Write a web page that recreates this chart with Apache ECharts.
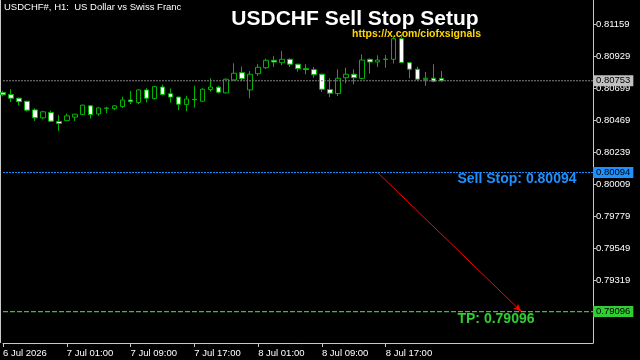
<!DOCTYPE html>
<html>
<head>
<meta charset="utf-8">
<script src="https://cdn.jsdelivr.net/npm/echarts@6/dist/echarts.min.js"></script>
<style>
html,body{margin:0;padding:0;background:#000;}
#chart{width:640px;height:360px;}
</style>
</head>
<body>
<div id="chart"></div>
<script>
// ---- data ----
var timeLabels = ['6 Jul 2026','7 Jul 01:00','7 Jul 09:00','7 Jul 17:00','8 Jul 01:00','8 Jul 09:00','8 Jul 17:00'];
var yTicks = [0.81159,0.80929,0.80699,0.80469,0.80239,0.80009,0.79779,0.79549,0.79319];
var opens  = [0.80668,0.80654,0.80628,0.80606,0.80544,0.80487,0.80525,0.80460,0.80467,0.80492,0.80510,0.80573,0.80515,0.80555,0.80553,0.80568,0.80615,0.80597,0.80687,0.80625,0.80708,0.80660,0.80636,0.80582,0.80620,0.80606,0.80690,0.80707,0.80666,0.80759,0.80811,0.80687,0.80804,0.80847,0.80900,0.80883,0.80907,0.80872,0.80840,0.80833,0.80800,0.80690,0.80661,0.80775,0.80800,0.80770,0.80907,0.80888,0.80906,0.80907,0.81055,0.80883,0.80836,0.80763,0.80771,0.80770];
var closes = [0.80652,0.80628,0.80603,0.80542,0.80487,0.80530,0.80463,0.80446,0.80501,0.80513,0.80578,0.80510,0.80558,0.80557,0.80573,0.80615,0.80603,0.80687,0.80628,0.80711,0.80654,0.80636,0.80585,0.80622,0.80617,0.80692,0.80708,0.80671,0.80764,0.80807,0.80768,0.80800,0.80850,0.80900,0.80888,0.80907,0.80872,0.80840,0.80833,0.80797,0.80692,0.80664,0.80771,0.80800,0.80775,0.80902,0.80888,0.80902,0.80908,0.81055,0.80884,0.80836,0.80764,0.80771,0.80750,0.80753];
var lows   = [0.80641,0.80601,0.80578,0.80532,0.80465,0.80477,0.80458,0.80393,0.80464,0.80465,0.80508,0.80482,0.80501,0.80520,0.80542,0.80558,0.80585,0.80585,0.80597,0.80618,0.80649,0.80597,0.80542,0.80534,0.80561,0.80605,0.80675,0.80661,0.80662,0.80755,0.80752,0.80628,0.80788,0.80836,0.80852,0.80866,0.80852,0.80819,0.80800,0.80775,0.80673,0.80636,0.80644,0.80735,0.80728,0.80764,0.80804,0.80852,0.80847,0.80876,0.80881,0.80771,0.80752,0.80716,0.80742,0.80748];
var highs  = [0.80680,0.80692,0.80630,0.80608,0.80556,0.80537,0.80539,0.80506,0.80517,0.80515,0.80580,0.80578,0.80562,0.80566,0.80576,0.80639,0.80680,0.80692,0.80700,0.80716,0.80725,0.80697,0.80639,0.80645,0.80716,0.80700,0.80771,0.80716,0.80770,0.80879,0.80854,0.80823,0.80872,0.80912,0.80931,0.80967,0.80914,0.80874,0.80872,0.80852,0.80804,0.80771,0.80836,0.80847,0.80836,0.80943,0.80913,0.80936,0.80938,0.81074,0.81089,0.80888,0.80854,0.80816,0.80872,0.80823];
var lastPrice = 0.80753;
var sellStop = 0.80094;
var takeProfit = 0.79096;
var arrowFrom = 47, arrowTo = 65;   // bar slots of the projection arrow
var labelSlot = 57;                 // bar slot where level texts start
var totalSlots = 75;

// ---- build ----
var categories = [];
for (var i = 0; i < totalSlots; i++) categories.push(String(i));
var candles = opens.map(function (o, i) { return [o, closes[i], lows[i], highs[i]]; });

var FONT = 'Liberation Sans, Arial, sans-serif';
var GREEN = '#00b400';
var TPGREEN = '#32cd32';
var BLUE = '#1e90ff';

// a horizontal price level across the whole chart, with its price box on the axis
function levelSeries(value, color, dash, boxColor, width) {
  return {
    type: 'line', silent: true, z: 8, symbol: 'none', animation: false,
    data: [[0, value], [totalSlots - 1, value]],
    color: color,
    lineStyle: {color: color, type: dash, width: width || 1, opacity: 1},
    itemStyle: {color: color},
    endLabel: {show: true, distance: 0,
      formatter: function (p) { return Number(p.value[1]).toFixed(5); },
      color: '#000', backgroundColor: boxColor, padding: [1, 3, 0, 3], fontFamily: FONT, fontSize: 9.5},
    emphasis: {disabled: true}
  };
}

var chart = echarts.init(document.getElementById('chart'), null, {renderer: 'canvas'});
chart.setOption({
  backgroundColor: '#000',
  animation: false,
  grid: {left: 1, right: 47, top: 0, bottom: 17, containLabel: false},
  xAxis: {
    type: 'category', data: categories, boundaryGap: false,
    axisLine: {show: true, lineStyle: {color: '#c8c8c8', width: 1}},
    axisTick: {show: true, length: 4, lineStyle: {color: '#c8c8c8'},
      interval: function (idx) { return idx % 8 === 0 && idx / 8 < timeLabels.length; }},
    axisLabel: {show: true, color: '#ffffff', fontFamily: FONT, fontSize: 9.5, align: 'left', margin: 5,
      interval: function (idx) { return idx % 8 === 0 && idx / 8 < timeLabels.length; },
      formatter: function (v, idx) { return timeLabels[idx / 8] || ''; }},
    splitLine: {show: false}
  },
  yAxis: {
    type: 'value', position: 'right', min: 0.78870, max: 0.81333, scale: true,
    axisLine: {show: true, lineStyle: {color: '#c8c8c8', width: 1}},
    axisTick: {show: true, length: 3, customValues: yTicks, lineStyle: {color: '#c8c8c8'}},
    axisLabel: {show: true, customValues: yTicks, color: '#ffffff', fontFamily: FONT, fontSize: 9.5, margin: 3,
      formatter: function (v) { return v.toFixed(5); }},
    splitLine: {show: false}
  },
  series: [{
    type: 'candlestick',
    data: candles,
    barWidth: 5,
    z: 3,
    itemStyle: {color: '#000000', color0: '#ffffff', borderColor: GREEN, borderColor0: GREEN, borderWidth: 1},
    markPoint: {
      silent: true, symbol: 'circle', symbolSize: 0, animation: false,
      data: [
        {coord: [String(labelSlot), sellStop], value: sellStop,
          label: {show: true, position: 'inside', align: 'left', verticalAlign: 'middle', offset: [0, 7],
            formatter: 'Sell Stop: ' + sellStop.toFixed(5), color: BLUE, fontFamily: FONT, fontSize: 14, fontWeight: 'bold'}},
        {coord: [String(labelSlot), takeProfit], value: takeProfit,
          label: {show: true, position: 'inside', align: 'left', verticalAlign: 'middle', offset: [0, 8],
            formatter: 'TP: ' + takeProfit.toFixed(5), color: TPGREEN, fontFamily: FONT, fontSize: 14, fontWeight: 'bold'}}
      ]
    }
  },
  levelSeries(lastPrice, '#808080', [2, 1], '#c0c0c0'),
  levelSeries(sellStop, BLUE, [2, 1], BLUE),
  levelSeries(takeProfit, '#22d022', [5, 2], TPGREEN, 1.3),
  {
    type: 'line', data: [], silent: true, z: 9,
    markLine: {
      silent: true, animation: false, precision: 5, symbol: ['none', 'arrow'], symbolSize: [5, 8],
      lineStyle: {color: '#ff0000', type: 'solid', width: 1},
      itemStyle: {color: '#ff0000'},
      label: {show: false},
      data: [[{coord: [String(arrowFrom), sellStop]}, {coord: [String(arrowTo), takeProfit]}]]
    }
  }],
  graphic: [
    {type: 'line', shape: {x1: 0.5, y1: 0, x2: 0.5, y2: 343}, style: {stroke: '#c8c8c8', lineWidth: 1}, silent: true},
    {type: 'text', left: 4, top: 2, silent: true,
      style: {text: 'USDCHF#, H1:  US Dollar vs Swiss Franc', fill: '#ffffff', font: '9.5px ' + FONT}},
    {type: 'text', x: 355, y: 19.5, silent: true,
      style: {text: 'USDCHF Sell Stop Setup', fill: '#ffffff', font: 'bold 21px ' + FONT, textAlign: 'center', textVerticalAlign: 'middle'}},
    {type: 'text', x: 481, y: 34, silent: true,
      style: {text: 'https://x.com/ciofxsignals', fill: '#ffd700', font: 'bold 10.5px ' + FONT, textAlign: 'right', textVerticalAlign: 'middle'}}
  ]
});
</script>
</body>
</html>
